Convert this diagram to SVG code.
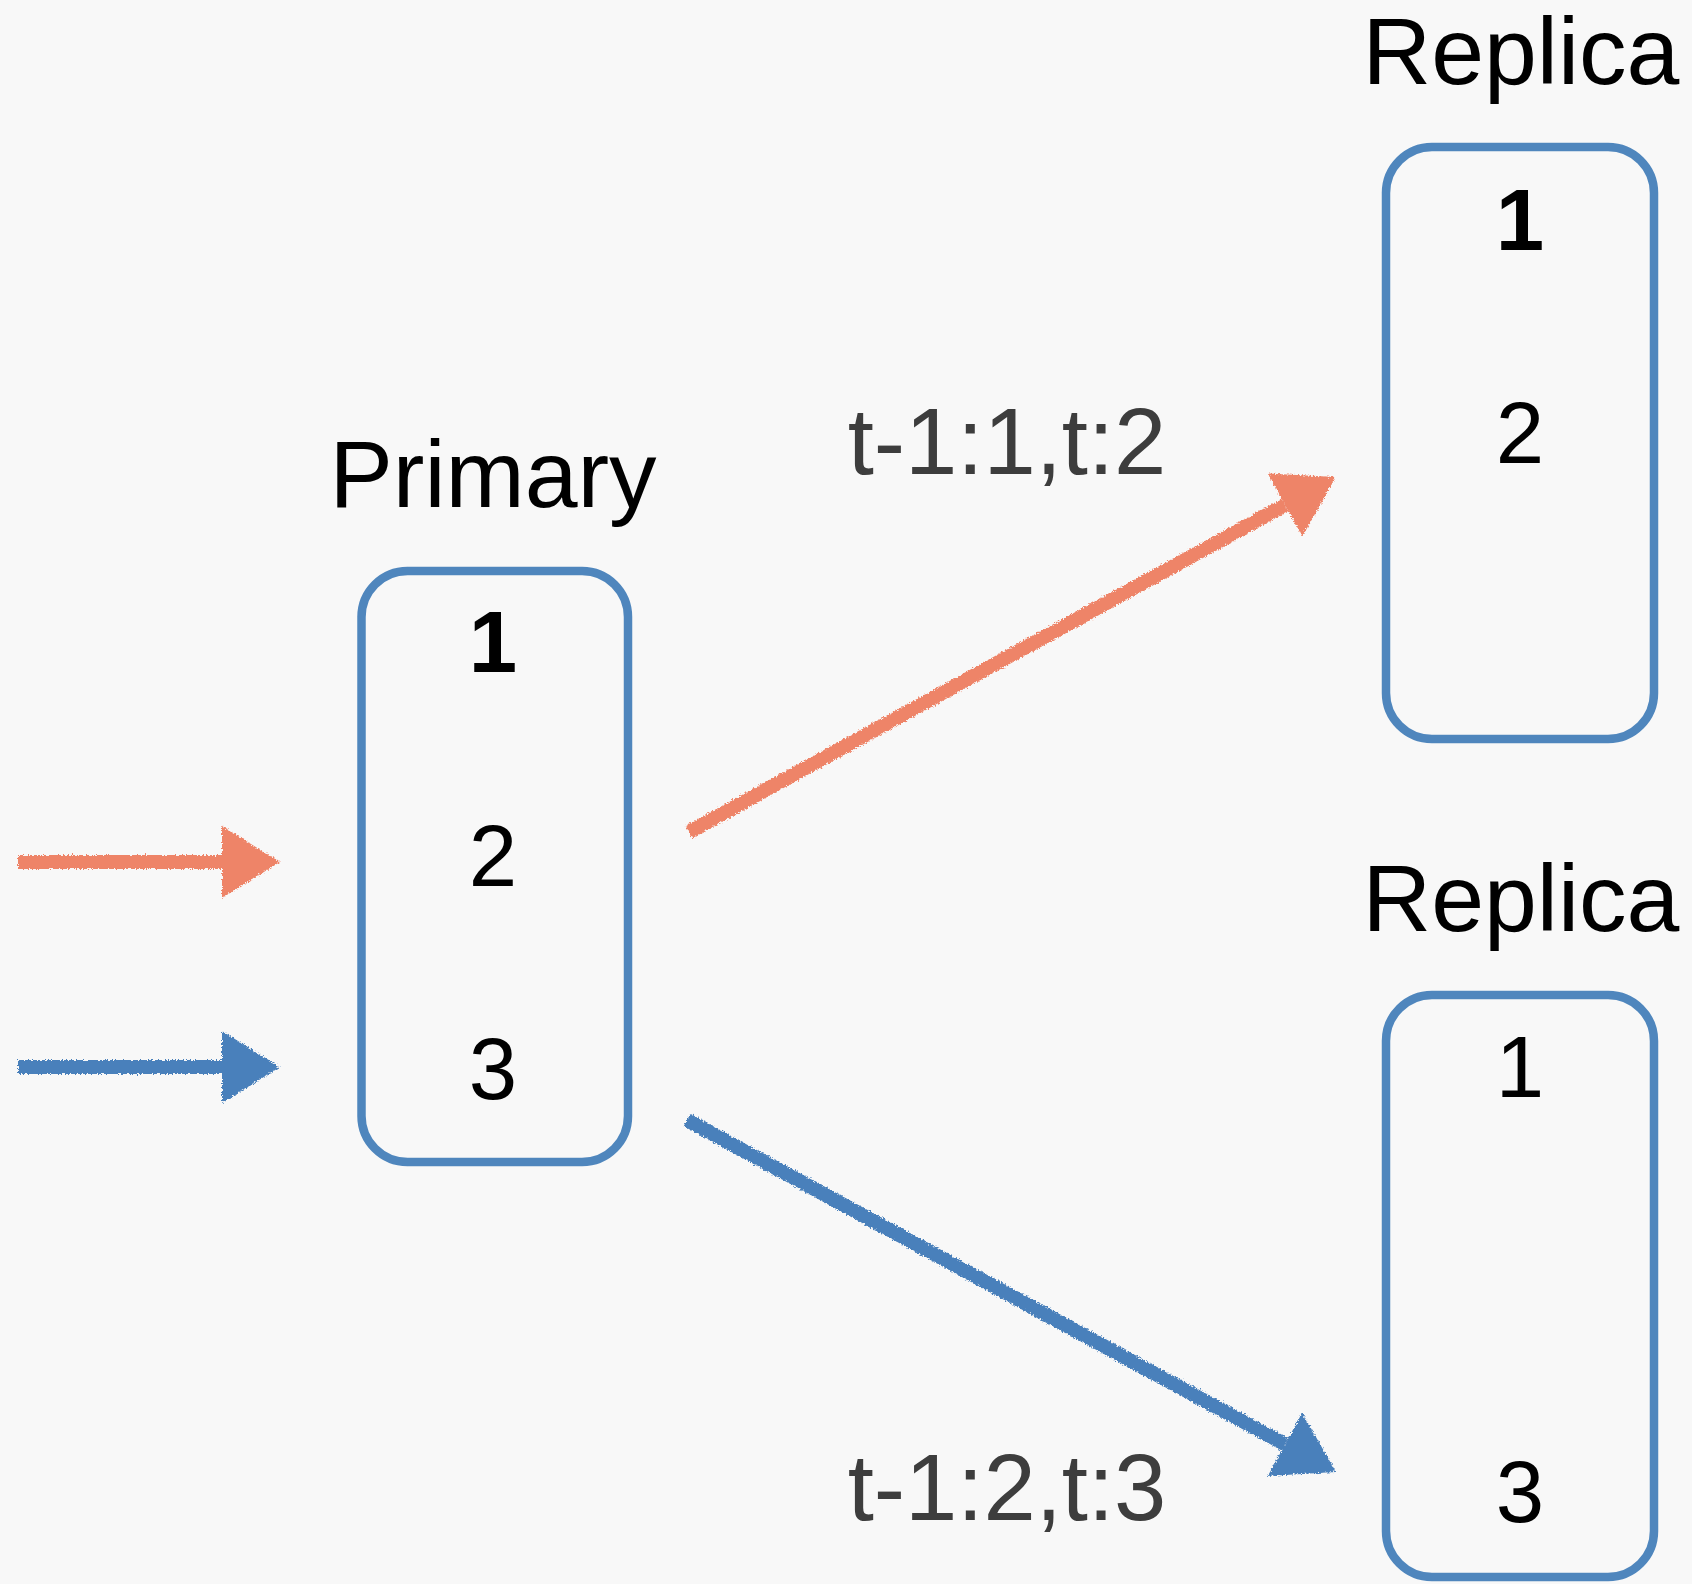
<svg xmlns="http://www.w3.org/2000/svg" width="1692" height="1584" viewBox="0 0 1692 1584">
<style>
.box{fill:none;stroke:#4f86bd;stroke-width:8.5}
.title{font-family:"Liberation Sans",Arial,sans-serif;font-size:95px;fill:#000;text-anchor:middle}
.num{font-family:"Liberation Sans",Arial,sans-serif;font-size:87px;fill:#000;text-anchor:middle}
.bold{font-weight:bold}
.lbl{font-family:"Liberation Sans",Arial,sans-serif;font-size:94px;fill:#3d3d3d;text-anchor:middle}
.o{fill:none;stroke:#ee8468;stroke-width:14}
.b{fill:none;stroke:#4a80bb;stroke-width:14}
</style>
<defs>
<filter id="chalk" x="-10%" y="-10%" width="120%" height="120%">
<feTurbulence type="fractalNoise" baseFrequency="0.6" numOctaves="2" seed="3" result="n"/>
<feDisplacementMap in="SourceGraphic" in2="n" scale="5" xChannelSelector="R" yChannelSelector="G"/>
</filter>
<marker id="ah-o" markerUnits="userSpaceOnUse" markerWidth="62" markerHeight="74" refX="0" refY="37" orient="auto" overflow="visible">
<path d="M0,1 L58,37 L0,73 Z" fill="#ee8468"/>
</marker>
<marker id="ah-b" markerUnits="userSpaceOnUse" markerWidth="62" markerHeight="74" refX="0" refY="37" orient="auto" overflow="visible">
<path d="M0,1 L58,37 L0,73 Z" fill="#4a80bb"/>
</marker>
</defs>
<rect width="1692" height="1584" fill="#f8f8f8"/>
<g id="primary">
<text class="title" x="493" y="507">Primary</text>
<rect class="box" x="361.5" y="571" width="266.5" height="591" rx="46"/>
<text class="num bold" x="493" y="672">1</text>
<text class="num" x="493" y="886">2</text>
<text class="num" x="493" y="1099">3</text>
</g>
<g id="replica-top">
<text class="title" x="1521" y="84">Replica</text>
<rect class="box" x="1386" y="147" width="268" height="592" rx="46"/>
<text class="num bold" x="1520" y="250">1</text>
<text class="num" x="1520" y="463">2</text>
</g>
<g id="replica-bottom">
<text class="title" x="1521" y="931">Replica</text>
<rect class="box" x="1386" y="995" width="268" height="582" rx="46"/>
<text class="num" x="1520" y="1097">1</text>
<text class="num" x="1520" y="1522">3</text>
</g>
<g id="connectors" filter="url(#chalk)">
<path class="o" d="M18,862 L222,862" marker-end="url(#ah-o)"/>
<path class="b" d="M18,1067 L222,1067" marker-end="url(#ah-b)"/>
<path class="o" d="M689,832 L1285,505" marker-end="url(#ah-o)"/>
<path class="b" d="M687,1120 L1285,1444.3" marker-end="url(#ah-b)"/>
</g>
<g id="labels">
<text class="lbl" x="1007" y="474">t-1:1,t:2</text>
<text class="lbl" x="1007" y="1520">t-1:2,t:3</text>
</g>
</svg>
